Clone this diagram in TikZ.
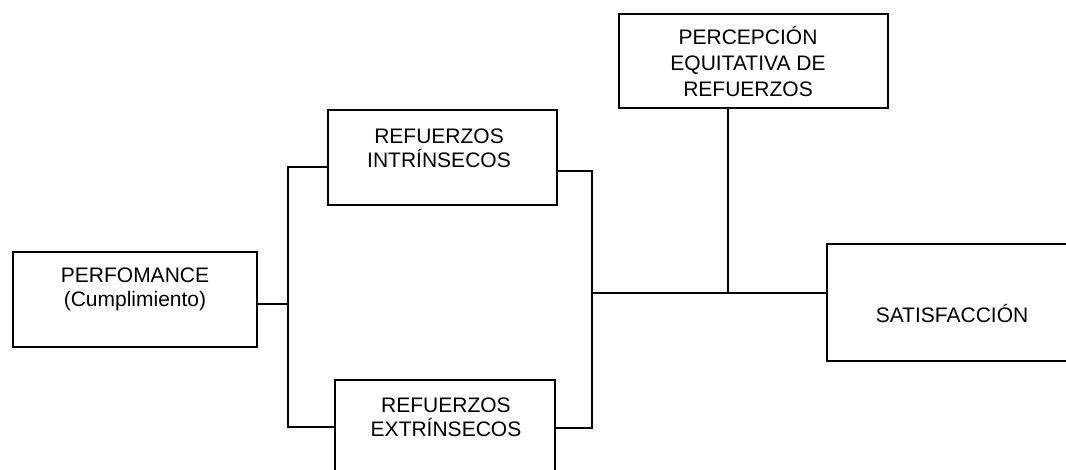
\documentclass[tikz,border=0pt]{standalone}
\usepackage{fontspec}
\setmainfont{Liberation Sans}
\begin{document}
\begin{tikzpicture}[x=0.5pt,y=-0.5pt,
  box/.style={draw, line width=1.1pt, inner sep=0pt},
  lbl/.style={align=center, font=\fontsize{10.5}{12}\selectfont, inner sep=0pt},
  conn/.style={line width=0.85pt}]
\useasboundingbox (0,0) rectangle (1066,470);
% boxes
\node[box, minimum width=122pt, minimum height=47.5pt] (perf) at (135,299.5) {};
\node[box, minimum width=114.5pt, minimum height=47.5pt] (intr) at (442.5,157.5) {};
\node[box, minimum width=110pt, minimum height=60pt] (extr) at (445,440) {};
\node[box, minimum width=134.5pt, minimum height=47pt] (perc) at (753.5,61) {};
\node[box, minimum width=126.5pt, minimum height=58.5pt] (sat) at (953.5,302.5) {};
% texts
\node[lbl] (perf-t) at (135,289) {PERFOMANCE\\(Cumplimiento)};
\node[lbl] (intr-t) at (439,148) {REFUERZOS\\INTRÍNSECOS};
\node[lbl] (extr-t) at (446,417) {REFUERZOS\\EXTRÍNSECOS};
\node[lbl, font=\fontsize{10.5}{13}\selectfont] (perc-t) at (748,61) {PERCEPCIÓN\\EQUITATIVA DE\\REFUERZOS};
\node[lbl] (sat-t) at (952,313) {SATISFACCIÓN};
% junctions
\coordinate (jl) at (288,304);
\coordinate (jlt) at (288,167);
\coordinate (jlb) at (288,427);
\coordinate (jrt) at (592,171);
\coordinate (jrb) at (592,428);
\coordinate (jm) at (592,293);
\coordinate (jp) at (728,293);
% connectors
\draw[conn] (perf.east |- jl) -- (jl);
\draw[conn] (intr.west |- jlt) -- (jlt) -- (jlb) -- (extr.west |- jlb);
\draw[conn] (intr.east |- jrt) -- (jrt) -- (jrb) -- (extr.east |- jrb);
\draw[conn] (jm) -- (sat.west |- jm);
\draw[conn] (perc.south -| jp) -- (jp);
\end{tikzpicture}
\end{document}
